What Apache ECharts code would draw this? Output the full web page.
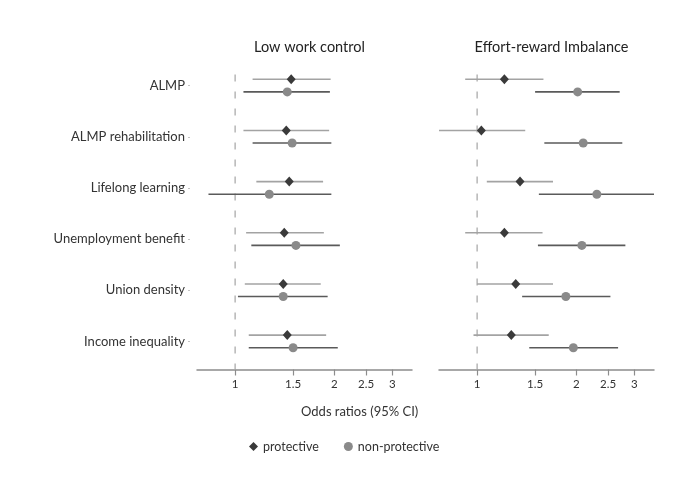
<!DOCTYPE html>
<html><head><meta charset="utf-8">
<script src="https://cdn.jsdelivr.net/npm/echarts@6/dist/echarts.min.js"></script>
<style>html,body{margin:0;padding:0;background:#fff}#c{width:685px;height:479px}</style>
</head><body><div id="c"></div>
<script>
const categories = ['ALMP','ALMP rehabilitation','Lifelong learning','Unemployment benefit','Union density','Income inequality'];
const xTicks = [1, 1.5, 2, 2.5, 3];
const panelTitles = ['Low work control', 'Effort-reward Imbalance'];
const xAxisTitle = 'Odds ratios (95% CI)';
const legendNames = ['protective', 'non-protective'];

// Low work control
const lwcProtEst  = [1.48, 1.43, 1.46, 1.41, 1.40, 1.44];
const lwcProtLow  = [1.13, 1.06, 1.16, 1.08, 1.07, 1.10];
const lwcProtHigh = [1.95, 1.93, 1.85, 1.86, 1.82, 1.89];
const lwcNonEst   = [1.44, 1.49, 1.27, 1.53, 1.40, 1.50];
const lwcNonLow   = [1.06, 1.13, 0.83, 1.12, 1.02, 1.10];
const lwcNonHigh  = [1.94, 1.96, 1.96, 2.08, 1.91, 2.05];

// Effort-reward imbalance
const eriProtEst  = [1.21, 1.03, 1.35, 1.21, 1.31, 1.27];
const eriProtLow  = [0.92, 0.76, 1.07, 0.92, 1.00, 0.975];
const eriProtHigh = [1.59, 1.40, 1.70, 1.58, 1.70, 1.65];
const eriNonEst   = [2.02, 2.10, 2.31, 2.08, 1.86, 1.96];
const eriNonLow   = [1.50, 1.60, 1.54, 1.53, 1.37, 1.44];
const eriNonHigh  = [2.71, 2.76, 3.50, 2.82, 2.54, 2.68];

const refValue = [1];

const PROT_COLOR = '#3a3a3a', PROT_LINE = '#a3a3a3';
const NON_COLOR = '#8a8a8a', NON_LINE = '#5a5a5a';
const OFF = 6.3;

const grids = [
  {left: 197, top: 60, width: 215, height: 307},
  {left: 439, top: 60, width: 215, height: 307}
];

function ciSeries(idx, low, high, color, dy) {
  return {
    type: 'custom', name: 'ci' + idx + dy, xAxisIndex: idx, yAxisIndex: idx, z: 3,
    encode: {x: [0, 1], y: 2},
    data: low.map((v, i) => [v, high[i], i]),
    renderItem: function (params, api) {
      const cs = params.coordSys;
      const a = api.coord([api.value(0), api.value(2)]);
      const b = api.coord([api.value(1), api.value(2)]);
      const x0 = Math.max(a[0], cs.x), x1 = Math.min(b[0], cs.x + cs.width);
      const y = a[1] + dy;
      return {type: 'line', shape: {x1: x0, y1: y, x2: x1, y2: y},
        style: {stroke: color, lineWidth: 1.6}};
    }
  };
}
function refSeries(idx) {
  return {
    type: 'custom', name: 'ref' + idx, xAxisIndex: idx, yAxisIndex: idx, z: 1,
    encode: {x: 0},
    data: refValue.map(v => [v]),
    renderItem: function (params, api) {
      const cs = params.coordSys;
      const p = api.coord([api.value(0), 0]);
      return {type: 'line', shape: {x1: p[0], y1: p[1] - 11, x2: p[0], y2: cs.y + cs.height + 2.5},
        style: {stroke: '#ababab', lineWidth: 1.3, lineDash: [7, 10]}};
    }
  };
}
function pointSeries(idx, est, name, symbol, size, color, dy) {
  return {
    type: 'scatter', name: name, xAxisIndex: idx, yAxisIndex: idx, z: 5,
    symbol: symbol, symbolSize: size, symbolOffset: [0, dy],
    itemStyle: {color: color, opacity: 1},
    data: est.map((v, i) => [v, categories[i]])
  };
}

const panels = [
  [lwcProtEst, lwcProtLow, lwcProtHigh, lwcNonEst, lwcNonLow, lwcNonHigh],
  [eriProtEst, eriProtLow, eriProtHigh, eriNonEst, eriNonLow, eriNonHigh]
];

const series = [];
panels.forEach((p, idx) => {
  series.push(refSeries(idx));
  series.push(ciSeries(idx, p[1], p[2], PROT_LINE, -OFF));
  series.push(ciSeries(idx, p[4], p[5], NON_LINE, OFF));
  series.push(pointSeries(idx, p[0], legendNames[0], 'diamond', [9, 10], PROT_COLOR, -OFF));
  series.push(pointSeries(idx, p[3], legendNames[1], 'circle', 9, NON_COLOR, OFF));
});

const option = {
  animation: false,
  textStyle: {fontFamily: 'Lato'},
  title: [
    {text: panelTitles[0], left: 304.5, top: 35, textAlign: 'center',
      textStyle: {fontSize: 14.5, fontWeight: 'normal', color: '#222', fontFamily: 'Lato'}},
    {text: panelTitles[1], left: 546.5, top: 35, textAlign: 'center',
      textStyle: {fontSize: 14.5, fontWeight: 'normal', color: '#222', fontFamily: 'Lato'}},
    {text: xAxisTitle, left: 296, top: 400,
      textStyle: {fontSize: 13, fontWeight: 'normal', color: '#333', fontFamily: 'Lato'}}
  ],
  legend: {
    data: [{name: legendNames[0], icon: 'diamond'}, {name: legendNames[1], icon: 'circle'}],
    left: 244, top: 435, itemWidth: 9, itemHeight: 9, itemGap: 25,
    textStyle: {fontSize: 12.5, color: '#333', fontFamily: 'Lato'}
  },
  grid: grids,
  xAxis: [0, 1].map(i => ({
    type: 'log', gridIndex: i, logBase: 10, min: 0.766, max: 3.445, offset: 2.5,
    axisLine: {show: true, lineStyle: {color: '#8c8c8c', width: 1.5}},
    axisTick: {show: true, length: 6, customValues: xTicks, lineStyle: {color: '#8c8c8c', width: 1.2}},
    axisLabel: {show: true, customValues: xTicks, margin: 9, fontSize: 11.5, color: '#333', fontFamily: 'Lato'},
    splitLine: {show: false}, minorTick: {show: false}
  })),
  yAxis: [0, 1].map(i => ({
    type: 'category', gridIndex: i, data: categories, inverse: true, offset: 7,
    axisLine: {show: false},
    axisTick: {show: i === 0, length: 2, alignWithLabel: true, lineStyle: {color: '#c4c4c4'}},
    axisLabel: {show: i === 0, margin: 5, fontSize: 13, color: '#333', fontFamily: 'Lato'},
    splitLine: {show: false}
  })),
  series: series
};
const chart = echarts.init(document.getElementById('c'), null, {renderer: 'canvas'});
chart.setOption(option);
</script></body></html>
